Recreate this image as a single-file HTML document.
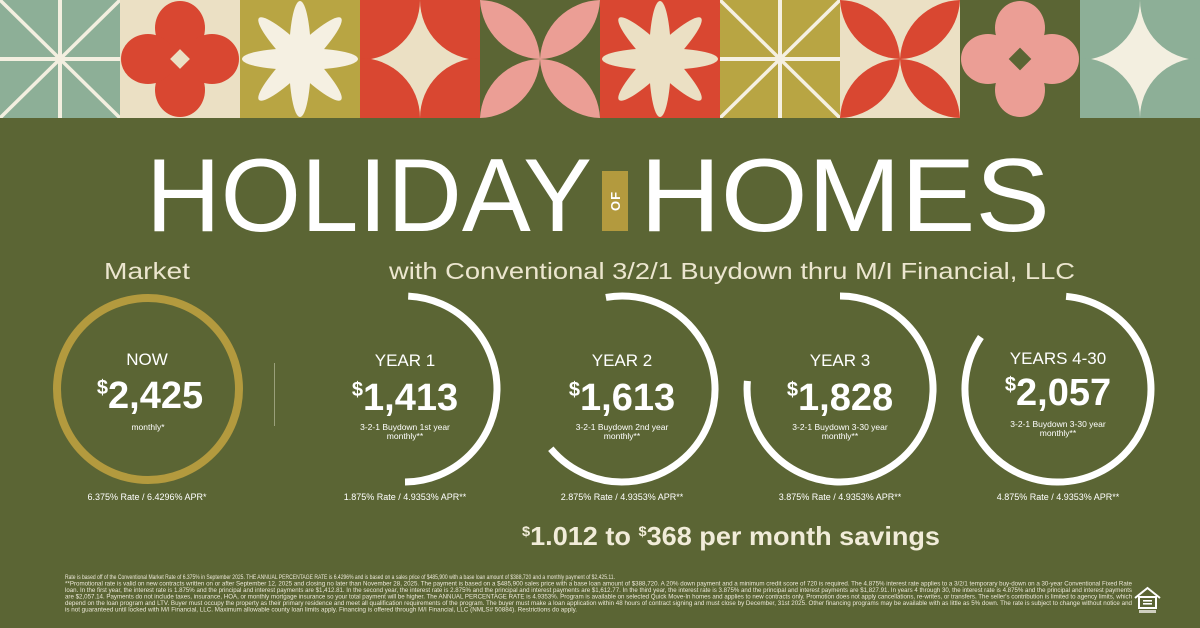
<!DOCTYPE html>
<html><head><meta charset="utf-8">
<style>
html,body{margin:0;padding:0;background:#5b6534;}
svg{display:block}
</style></head>
<body>
<svg width="1200" height="628" viewBox="0 0 1200 628" xmlns="http://www.w3.org/2000/svg" font-family="Liberation Sans, sans-serif">
<defs>
  <g id="lines">
    <line x1="60" y1="0" x2="60" y2="118" stroke-width="4"/>
    <line x1="0" y1="59" x2="120" y2="59" stroke-width="4"/>
    <line x1="0" y1="0" x2="120" y2="118" stroke-width="3.5"/>
    <line x1="120" y1="0" x2="0" y2="118" stroke-width="3.5"/>
  </g>
  <g id="star8">
    <ellipse cx="60" cy="59" rx="11" ry="58"/>
    <ellipse cx="60" cy="59" rx="11" ry="58" transform="rotate(45 60 59)"/>
    <ellipse cx="60" cy="59" rx="11" ry="58" transform="rotate(90 60 59)"/>
    <ellipse cx="60" cy="59" rx="11" ry="58" transform="rotate(135 60 59)"/>
  </g>
  <g id="flower">
    <ellipse cx="60" cy="28" rx="25" ry="27"/>
    <ellipse cx="60" cy="90" rx="25" ry="27"/>
    <ellipse cx="28" cy="59" rx="27" ry="25"/>
    <ellipse cx="92" cy="59" rx="27" ry="25"/>
    <rect x="42" y="41" width="36" height="36" transform="rotate(45 60 59)"/>
  </g>
  <g id="lens">
    <path d="M60,59 A62,62 0 0 0 0,0 A62,62 0 0 0 60,59Z"/>
    <path d="M60,59 A62,62 0 0 0 120,0 A62,62 0 0 0 60,59Z"/>
    <path d="M60,59 A62,62 0 0 0 120,118 A62,62 0 0 0 60,59Z"/>
    <path d="M60,59 A62,62 0 0 0 0,118 A62,62 0 0 0 60,59Z"/>
  </g>
  <g id="corners">
    <circle cx="0" cy="0" r="60"/><circle cx="120" cy="0" r="60"/>
    <circle cx="0" cy="118" r="60"/><circle cx="120" cy="118" r="60"/>
  </g>
  <clipPath id="tile"><rect x="0" y="0" width="120" height="118"/></clipPath>
</defs>
<rect width="1200" height="628" fill="#5b6534"/>

<!-- tiles -->
<g clip-path="url(#tile)"><rect width="120" height="118" fill="#8daf97"/><use href="#lines" stroke="#f3efe0"/></g>
<g transform="translate(120,0)" clip-path="url(#tile)"><rect width="120" height="118" fill="#ebe0c4"/><use href="#flower" fill="#d94731"/><rect x="53" y="52" width="14" height="14" fill="#ebe0c4" transform="rotate(45 60 59)"/></g>
<g transform="translate(240,0)" clip-path="url(#tile)"><rect width="120" height="118" fill="#b8a543"/><use href="#star8" fill="#f5f0e2"/></g>
<g transform="translate(360,0)" clip-path="url(#tile)"><rect width="120" height="118" fill="#ebe0c4"/><use href="#corners" fill="#d94731"/></g>
<g transform="translate(480,0)" clip-path="url(#tile)"><rect width="120" height="118" fill="#5b6534"/><use href="#lens" fill="#eb9e95"/></g>
<g transform="translate(600,0)" clip-path="url(#tile)"><rect width="120" height="118" fill="#d94731"/><use href="#star8" fill="#ebe0c4"/></g>
<g transform="translate(720,0)" clip-path="url(#tile)"><rect width="120" height="118" fill="#b8a543"/><use href="#lines" stroke="#f5f0e2"/></g>
<g transform="translate(840,0)" clip-path="url(#tile)"><rect width="120" height="118" fill="#ebe0c4"/><use href="#lens" fill="#d94731"/></g>
<g transform="translate(960,0)" clip-path="url(#tile)"><rect width="120" height="118" fill="#5b6534"/><use href="#flower" fill="#eb9e95"/><rect x="52" y="51" width="16" height="16" fill="#5b6534" transform="rotate(45 60 59)"/></g>
<g transform="translate(1080,0)" clip-path="url(#tile)"><rect width="120" height="118" fill="#f3efe0"/><use href="#corners" fill="#8daf97"/></g>

<!-- title -->
<g fill="#ffffff" font-size="104" font-weight="normal">
  <text x="146" y="231" textLength="446" lengthAdjust="spacingAndGlyphs">HOLIDAY</text>
  <text x="640" y="231" textLength="410" lengthAdjust="spacingAndGlyphs">HOMES</text>
</g>
<rect x="602" y="171" width="26" height="60" fill="#b39a3e"/>
<text transform="translate(620,201) rotate(-90)" text-anchor="middle" font-size="13" font-weight="bold" fill="#ffffff" letter-spacing="1">OF</text>

<g fill="#ece6cf" font-size="23">
  <text x="104" y="279" textLength="86" lengthAdjust="spacingAndGlyphs">Market</text>
  <text x="389" y="279" textLength="686" lengthAdjust="spacingAndGlyphs">with Conventional 3/2/1 Buydown thru M/I Financial, LLC</text>
</g>

<!-- circles -->
<circle cx="148" cy="389" r="91" fill="none" stroke="#b39a3e" stroke-width="8"/>
<line x1="274.5" y1="363" x2="274.5" y2="426" stroke="#9aa07a" stroke-width="1"/>
<g fill="none" stroke="#ffffff" stroke-width="7">
  <path d="M 408.2 296.1 A 93 93 0 0 1 405 482"/>
  <path d="M 605.9 297.4 A 93 93 0 1 1 550.8 448.8"/>
  <path d="M 840 296 A 93 93 0 1 1 747.4 380.9"/>
  <path d="M 1066.1 296.4 A 93 93 0 1 1 980.9 337"/>
</g>

<g fill="#ffffff" text-anchor="middle">
  <text x="147" y="365" font-size="17">NOW</text>
  <text x="405" y="366" font-size="17">YEAR 1</text>
  <text x="622" y="366" font-size="17">YEAR 2</text>
  <text x="840" y="366" font-size="17">YEAR 3</text>
  <text x="1058" y="364" font-size="17">YEARS 4-30</text>

  <g font-weight="bold" font-size="38">
    <text x="150" y="408"><tspan font-size="20" dy="-14">$</tspan><tspan dy="14">2,425</tspan></text>
    <text x="405" y="410"><tspan font-size="20" dy="-14">$</tspan><tspan dy="14">1,413</tspan></text>
    <text x="622" y="410"><tspan font-size="20" dy="-14">$</tspan><tspan dy="14">1,613</tspan></text>
    <text x="840" y="410"><tspan font-size="20" dy="-14">$</tspan><tspan dy="14">1,828</tspan></text>
    <text x="1058" y="405"><tspan font-size="20" dy="-14">$</tspan><tspan dy="14">2,057</tspan></text>
  </g>

  <g font-size="8.5">
    <text x="148" y="430">monthly*</text>
    <text x="405" y="430">3-2-1 Buydown 1st year</text>
    <text x="405" y="439">monthly**</text>
    <text x="622" y="430">3-2-1 Buydown 2nd year</text>
    <text x="622" y="439">monthly**</text>
    <text x="840" y="430">3-2-1 Buydown 3-30 year</text>
    <text x="840" y="439">monthly**</text>
    <text x="1058" y="427">3-2-1 Buydown 3-30 year</text>
    <text x="1058" y="436">monthly**</text>
  </g>
  <g font-size="9">
    <text x="147" y="500">6.375% Rate / 6.4296% APR*</text>
    <text x="405" y="500">1.875% Rate / 4.9353% APR**</text>
    <text x="622" y="500">2.875% Rate / 4.9353% APR**</text>
    <text x="840" y="500">3.875% Rate / 4.9353% APR**</text>
    <text x="1058" y="500">4.875% Rate / 4.9353% APR**</text>
  </g>
</g>

<text x="522" y="545" fill="#f1ecd9" font-weight="bold" font-size="26" textLength="418" lengthAdjust="spacingAndGlyphs"><tspan font-size="14" dy="-9">$</tspan><tspan dy="9">1.012 to </tspan><tspan font-size="14" dy="-9">$</tspan><tspan dy="9">368 per month savings</tspan></text>

<!-- fine print -->
<g fill="#ece8d8" font-size="6">
<text x="65" y="579" textLength="550" lengthAdjust="spacingAndGlyphs">Rate is based off of the Conventional Market Rate of 6.375% in September 2025. THE ANNUAL PERCENTAGE RATE is 6.4296% and is based on a sales price of $485,900 with a base loan amount of $388,720 and a monthly payment of $2,425.11.</text>
<text x="65" y="585.5" textLength="1067" lengthAdjust="spacingAndGlyphs">**Promotional rate is valid on new contracts written on or after September 12, 2025 and closing no later than November 28, 2025. The payment is based on a $485,900 sales price with a base loan amount of $388,720. A 20% down payment and a minimum credit score of 720 is required. The 4.875% interest rate applies to a 3/2/1 temporary buy-down on a 30-year Conventional Fixed Rate</text>
<text x="65" y="592" textLength="1067" lengthAdjust="spacingAndGlyphs">loan. In the first year, the interest rate is 1.875% and the principal and interest payments are $1,412.81. In the second year, the interest rate is 2.875% and the principal and interest payments are $1,612.77. In the third year, the interest rate is 3.875% and the principal and interest payments are $1,827.91. In years 4 through 30, the interest rate is 4.875% and the principal and interest payments</text>
<text x="65" y="598.5" textLength="1067" lengthAdjust="spacingAndGlyphs">are $2,057.14. Payments do not include taxes, insurance, HOA, or monthly mortgage insurance so your total payment will be higher. The ANNUAL PERCENTAGE RATE is 4.9353%. Program is available on selected Quick Move-In homes and applies to new contracts only. Promotion does not apply cancellations, re-writes, or transfers. The seller's contribution is limited to agency limits, which</text>
<text x="65" y="605" textLength="1067" lengthAdjust="spacingAndGlyphs">depend on the loan program and LTV. Buyer must occupy the property as their primary residence and meet all qualification requirements of the program. The buyer must make a loan application within 48 hours of contract signing and must close by December, 31st 2025. Other financing programs may be available with as little as 5% down. The rate is subject to change without notice and</text>
<text x="65" y="611.5" textLength="512" lengthAdjust="spacingAndGlyphs">is not guaranteed until locked with M/I Financial, LLC. Maximum allowable county loan limits apply. Financing is offered through M/I Financial, LLC (NMLS# 50884). Restrictions do apply.</text>
</g>

<!-- equal housing -->
<g fill="none" stroke="#ffffff" stroke-width="2">
  <path d="M1139,597 L1156,597 L1156,608 L1139,608 Z" />
  <path d="M1135,598 L1147.5,588 L1160,598" />
</g>
<rect x="1143" y="600" width="9" height="1.6" fill="#fff"/>
<rect x="1143" y="603" width="9" height="1.6" fill="#fff"/>
<rect x="1139" y="610" width="17" height="3" fill="#cfcfbf"/>
</svg>
</body></html>
